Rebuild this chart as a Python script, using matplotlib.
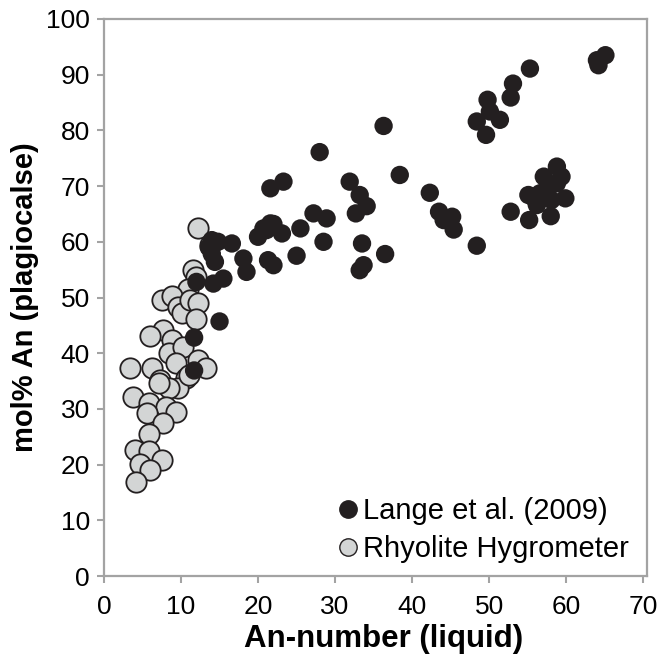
import matplotlib
matplotlib.use("Agg")
import matplotlib.pyplot as plt
from matplotlib.lines import Line2D

plt.rcParams['font.family'] = ['Liberation Sans', 'DejaVu Sans']

# Lange et al. (2009) data
lange_x = [11.7, 11.7, 15.0, 12.0, 14.2, 15.5, 14.4, 14.0, 14.0, 13.6, 14.8, 16.6,
           18.1, 18.5, 20.0, 20.7, 21.6, 21.1, 22.0, 23.1, 21.3, 22.0, 21.6, 23.3,
           25.0, 25.5, 27.2, 28.0, 28.5, 28.9, 31.9, 32.7, 33.2, 34.1, 33.5, 33.7,
           33.2, 36.3, 36.5, 38.4, 42.3, 43.5, 44.1, 45.2, 45.4, 48.4, 48.4, 49.6,
           49.8, 50.1, 51.4, 52.8, 53.1, 55.3, 52.8, 55.2, 55.1, 56.2, 56.6, 57.1,
           58.0, 58.1, 58.8, 58.8, 59.4, 59.9, 57.5, 56.0, 64.0, 64.2, 65.1]
lange_y = [36.9, 42.8, 45.7, 52.8, 52.5, 53.4, 56.4, 57.8, 60.3, 59.0, 60.0, 59.7,
           57.0, 54.6, 60.9, 62.4, 63.3, 62.1, 63.2, 61.5, 56.7, 55.8, 69.6, 70.8,
           57.5, 62.4, 65.1, 76.1, 60.0, 64.2, 70.8, 65.1, 68.4, 66.4, 59.7, 55.8,
           54.9, 80.8, 57.8, 72.0, 68.8, 65.4, 63.9, 64.5, 62.2, 59.3, 81.6, 79.2,
           85.5, 83.4, 81.9, 85.9, 88.4, 91.1, 65.4, 63.9, 68.4, 66.6, 68.7, 71.7,
           64.6, 67.5, 70.5, 73.5, 71.7, 67.8, 69.5, 67.5, 92.6, 91.7, 93.5]

# Rhyolite Hygrometer data
rhy_x = [12.25, 13.8, 11.5, 12.0, 10.9, 7.5, 8.8, 9.6, 10.1, 11.2, 12.2, 12.0,
         7.7, 6.0, 8.8, 8.4, 10.3, 3.4, 6.2, 9.4, 7.3, 10.7, 12.2, 13.3, 9.6,
         8.4, 7.1, 3.8, 5.8, 8.1, 9.4, 5.6, 7.7, 5.8, 4.0, 5.8, 7.5, 4.7, 6.0,
         4.2, 11.0]
rhy_y = [62.4, 59.4, 55.0, 53.7, 51.6, 49.6, 50.2, 48.3, 47.2, 49.6, 49.0, 46.1,
         44.2, 43.0, 42.4, 40.0, 41.2, 37.3, 37.3, 38.2, 35.2, 35.5, 38.8, 37.3,
         33.7, 33.7, 34.6, 32.2, 31.0, 30.4, 29.5, 29.2, 27.4, 25.5, 22.6, 22.4,
         20.8, 20.1, 19.1, 16.9, 36.0]

x_ticks = [0, 10, 20, 30, 40, 50, 60, 70]
y_ticks = [0, 10, 20, 30, 40, 50, 60, 70, 80, 90, 100]

BLACK = '#231f20'
GREY = '#d3d5d5'
SPINE = '#a3a3a3'

fig = plt.figure(figsize=(6.61, 6.55), dpi=100)
ax = fig.add_axes([104/661, 1-576/655, (647-104)/661, (576-19)/655])

ax.scatter(rhy_x, rhy_y, s=215, c=GREY, edgecolors=BLACK, linewidths=1.3, zorder=2)
ax.scatter(lange_x, lange_y, s=175, c=BLACK, edgecolors='none', zorder=3)

ax.set_xlim(0, 70.5)
ax.set_ylim(0, 100)
ax.set_xticks(x_ticks)
ax.set_yticks(y_ticks)
ax.tick_params(axis='both', labelsize=19, color=SPINE, width=1.5, length=5,
               direction='out')
ax.tick_params(axis='x', pad=9)
ax.tick_params(axis='y', pad=5)
for s in ax.spines.values():
    s.set_color(SPINE)
    s.set_linewidth(1.6)

ax.set_xlabel('An-number (liquid)', fontsize=22.5, fontweight='bold', labelpad=3)
ax.xaxis.label.set_x(0.515)
ax.set_ylabel('mol% An (plagiocalse)', fontsize=21, fontweight='bold', labelpad=5)

handles = [
    Line2D([], [], marker='o', linestyle='none', markersize=12.5,
           markerfacecolor=BLACK, markeredgecolor=BLACK),
    Line2D([], [], marker='o', linestyle='none', markersize=12.5,
           markerfacecolor=GREY, markeredgecolor=BLACK, markeredgewidth=1.0),
]
ax.legend(handles, ['Lange et al. (2009)', 'Rhyolite Hygrometer'],
          loc='lower right', bbox_to_anchor=(0.99, 0.0), frameon=False,
          fontsize=21, handletextpad=0.0, handlelength=1.0,
          labelspacing=0.33, borderaxespad=0.05)

fig.savefig('out.png', dpi=100)
